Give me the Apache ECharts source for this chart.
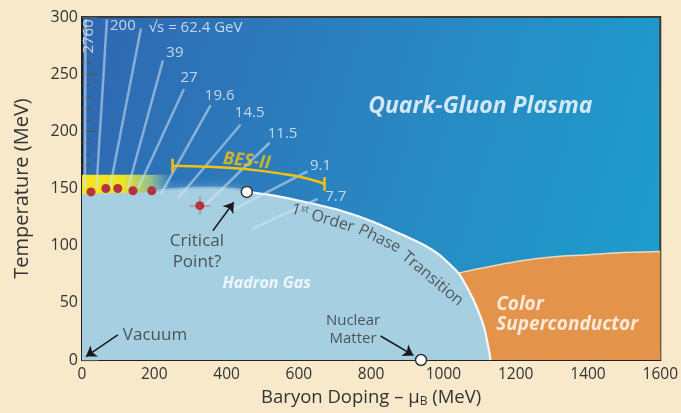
<!DOCTYPE html>
<html><head><meta charset="utf-8">
<script src="https://cdn.jsdelivr.net/npm/echarts@6/dist/echarts.min.js"></script>
<style>html,body{margin:0;padding:0;background:#f7e9ca;}#c{width:681px;height:413px;}</style>
</head><body><div id="c"></div>
<script>
// ---------- data ----------
const xRange = [0, 1600];
const yRange = [0, 300];
const hadronBoundary = [[0,145],[100,146],[200,147],[260,149],[350,150],[420,149],[456,147],[528,144],[621,138],[713,131],[805,121],[897,108],[950,100],[989,92],[1020,83],[1042,76],[1063,65],[1081,54],[1100,40],[1113,28],[1122,15],[1128,5],[1130,0]];
const firstOrderStartX = 456;
const crossoverRange = [200, 456];
const superconductorTop = [[1042,76],[1070,78],[1100,80],[1150,83],[1200,86],[1300,90],[1400,92],[1500,94],[1600,95]];
const freezeOutBand = [[0,144],[250,162]];
const freezeOutPoints = [[25,147],[66,150],[99,150],[141,148],[193,148]];
const criticalEstimate = [326,135];
const criticalEstimateErr = [28,8];
const openPoints = [[456,147],[938,0]];
const energies = ['2760','200','√s = 62.4 GeV','39','27','19.6','14.5','11.5','9.1','7.7'];
const energyTop = [[10,298],[69,298],[163,290],[224,262],[282,237],[356,223],[439,206],[519,190],[624,165],[652,141]];
const energyBottom = [[8,150],[40,150],[77,150],[127,150],[155,150],[218,145],[265,141],[340,135],[409,130],[472,115]];
const besArc = [[251,170],[350,169],[450,167],[550,163],[620,159],[671,154]];
const besCapHalf = 6;

// ---------- annotation placement ----------
const energyLabelPos = [[19,283,90,'center'],[113,292,0,'center'],[185,291,0,'left'],[257,269,0,'center'],[296,247,0,'center'],[381,231,0,'center'],[464,216,0,'center'],[555,198,0,'center'],[660,170,0,'center'],[702,143,0,'center']];
const arrows = [[[362,113],[420,138]],[[99,22],[11,3]],[[826,21],[917,4]]];

const FONT = '"Open Sans", Lato, sans-serif';
const darkText = '#333';

function txt(x,y,text,opt){
  return {value:[x,y], label:Object.assign({show:true, position:'inside', formatter:text, fontFamily:FONT, color:'#fff', fontSize:13}, opt)};
}

const textItems = [
  txt(1102,222,'Quark-Gluon Plasma',{fontSize:23,fontWeight:'bold',fontStyle:'italic'}),
  txt(511,67,'Hadron Gas',{fontSize:16,fontWeight:'bold',fontStyle:'italic'}),
  txt(1146,40,'Color\nSuperconductor',{fontSize:19,fontWeight:'bold',fontStyle:'italic',align:'left',lineHeight:20}),
  txt(318,95,'Critical\nPoint?',{fontSize:17,color:darkText,lineHeight:21}),
  txt(113,22,'Vacuum',{fontSize:17,color:darkText,align:'left'}),
  txt(750,26.5,'Nuclear\nMatter',{fontSize:15,color:darkText,lineHeight:18}),
  txt(456,174,'BES-II',{fontSize:18,fontWeight:'bold',fontStyle:'italic',color:'#f4c20d',rotate:-6}),
  txt(666,124,'1{s|st} Order',{fontSize:16,color:'#3a3a3a',rotate:-17,rich:{s:{fontSize:9,verticalAlign:'top',color:'#3a3a3a',fontFamily:FONT}}}),
  txt(823,106,'Phase',{fontSize:16,color:'#3a3a3a',rotate:-26}),
  txt(970,71,'Transition',{fontSize:16,color:'#3a3a3a',rotate:-40})
];
energies.forEach((e,i)=>{
  const p = energyLabelPos[i];
  textItems.push(txt(p[0],p[1],e,{fontSize:15,color:'#e6eef8',rotate:p[2],align:p[3]}));
});

const chart = echarts.init(document.getElementById('c'));
chart.setOption({
  animation:false,
  backgroundColor:'#f7e9ca',
  grid:{show:true,left:82,top:17,right:20,bottom:51,
    backgroundColor:new echarts.graphic.LinearGradient(0,0,1,0.5,[{offset:0,color:'#2f67b0'},{offset:0.5,color:'#2a84c1'},{offset:1,color:'#1e9ccb'}]),
    borderColor:'#3a3a3a',borderWidth:2},
  xAxis:{type:'value',min:xRange[0],max:xRange[1],interval:200,
    axisLine:{show:true,onZero:false,lineStyle:{color:'#222',width:2}},
    axisTick:{show:true,inside:true,length:9,lineStyle:{color:'#555',width:1.2}},
    minorTick:{show:true,splitNumber:4,length:5,lineStyle:{color:'#555',width:1.2}},
    splitLine:{show:false},
    axisLabel:{fontSize:15.5,color:darkText,fontFamily:FONT,margin:7,formatter:v=>String(v)},
    name:'Baryon Doping – μ{b|B} (MeV)',nameLocation:'middle',nameGap:27,
    nameTextStyle:{fontSize:18.5,color:darkText,fontFamily:FONT,rich:{b:{fontSize:12,verticalAlign:'bottom',padding:[9,0,0,0],color:darkText,fontFamily:FONT}}}},
  yAxis:{type:'value',min:yRange[0],max:yRange[1],interval:50,
    axisLine:{show:true,onZero:false,lineStyle:{color:'#222',width:2}},
    axisTick:{show:true,inside:true,length:16,lineStyle:{color:'#555',width:1.2}},
    minorTick:{show:true,splitNumber:5,length:9,lineStyle:{color:'#555',width:1.2}},
    splitLine:{show:false},
    axisLabel:{fontSize:16,color:darkText,fontFamily:FONT,margin:4},
    name:'Temperature (MeV)',nameLocation:'middle',nameGap:50,
    nameTextStyle:{fontSize:20,color:darkText,fontFamily:FONT}},
  series:[
    {type:'line',data:superconductorTop,smooth:true,symbol:'none',z:1,
      lineStyle:{color:'rgba(255,236,215,0.8)',width:1.5},
      areaStyle:{color:'#e3944a',opacity:1}},
    {type:'line',data:hadronBoundary,smooth:0.2,symbol:'none',z:2,
      lineStyle:{width:0},areaStyle:{color:'#a6d0e2',opacity:1}},
    {type:'line',data:hadronBoundary.filter(p=>p[0]>=crossoverRange[0]&&p[0]<=crossoverRange[1]),smooth:0.3,symbol:'none',z:3,
      lineStyle:{color:'rgba(166,208,226,0.7)',width:4,shadowBlur:8,shadowColor:'rgba(166,208,226,0.9)'}},
    {type:'line',data:hadronBoundary.filter(p=>p[0]>=firstOrderStartX),smooth:0.2,symbol:'none',z:4,
      lineStyle:{color:'#f4f8fb',width:2.2},
      markArea:{silent:true,itemStyle:{color:new echarts.graphic.LinearGradient(0,0,1,0,[
        {offset:0,color:'#f3e61c'},{offset:0.45,color:'#efe424'},{offset:0.75,color:'rgba(185,222,120,0.75)'},{offset:1,color:'rgba(165,210,215,0)'}])},
        data:[[{coord:freezeOutBand[0]},{coord:freezeOutBand[1]}]]}},
    {type:'lines',coordinateSystem:'cartesian2d',z:5,silent:true,
      lineStyle:{color:'rgba(210,228,246,0.55)',width:2.5,opacity:1},
      data:energies.map((e,i)=>({coords:[energyTop[i],energyBottom[i]]}))},
    {type:'line',data:besArc,smooth:true,symbol:'none',z:6,lineStyle:{color:'#f4c20d',width:2.5}},
    {type:'lines',coordinateSystem:'cartesian2d',z:6,lineStyle:{color:'#f4c20d',width:2.5,opacity:1},
      data:[besArc[0],besArc[besArc.length-1]].map(p=>({coords:[[p[0],p[1]-besCapHalf],[p[0],p[1]+besCapHalf]]}))},
    {type:'lines',coordinateSystem:'cartesian2d',z:6,lineStyle:{color:'rgba(190,130,140,0.9)',width:1.5,opacity:1},
      data:[{coords:[[criticalEstimate[0]-criticalEstimateErr[0],criticalEstimate[1]],[criticalEstimate[0]+criticalEstimateErr[0],criticalEstimate[1]]]},
            {coords:[[criticalEstimate[0],criticalEstimate[1]-criticalEstimateErr[1]],[criticalEstimate[0],criticalEstimate[1]+criticalEstimateErr[1]]]}]},
    {type:'scatter',data:freezeOutPoints.concat([criticalEstimate]),symbolSize:9,z:7,itemStyle:{color:'#b3333f',opacity:1}},
    {type:'scatter',data:openPoints,symbolSize:11,z:8,itemStyle:{color:'#fff',borderColor:'#333',borderWidth:1.5,opacity:1}},
    {type:'lines',coordinateSystem:'cartesian2d',z:9,silent:true,symbol:['none','arrow'],symbolSize:[0,10],
      lineStyle:{color:'#1a1a1a',width:1.5,opacity:1},
      data:arrows.map(a=>({coords:[a[0],a[1]]}))},
    {type:'scatter',data:textItems,symbolSize:0,z:10,silent:true}
  ]
});
</script></body></html>
